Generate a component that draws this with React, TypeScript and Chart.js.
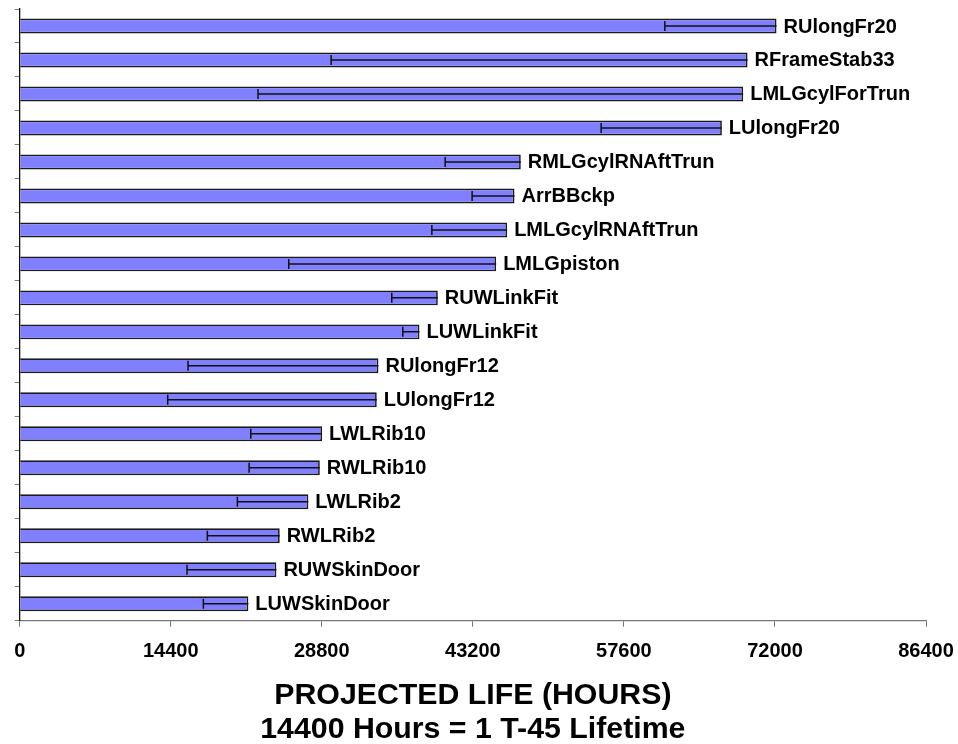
import React, { useEffect, useRef } from "react";
import { Chart, registerables } from "chart.js";

Chart.register(...registerables);

const categories = [
  "RUlongFr20",
  "RFrameStab33",
  "LMLGcylForTrun",
  "LUlongFr20",
  "RMLGcylRNAftTrun",
  "ArrBBckp",
  "LMLGcylRNAftTrun",
  "LMLGpiston",
  "RUWLinkFit",
  "LUWLinkFit",
  "RUlongFr12",
  "LUlongFr12",
  "LWLRib10",
  "RWLRib10",
  "LWLRib2",
  "RWLRib2",
  "RUWSkinDoor",
  "LUWSkinDoor",
];

const projectedLife = [
  72150, 69390, 68970, 66940, 47770, 47170, 46470, 45420, 39860, 38110,
  34200, 34040, 28830, 28610, 27520, 24790, 24470, 21800,
];

const lowerBound = [
  61500, 29690, 22720, 55430, 40560, 43130, 39290, 25650, 35470, 36520,
  16050, 14110, 22030, 21870, 20750, 17890, 15950, 17510,
];

const xTicks = [0, 14400, 28800, 43200, 57600, 72000, 86400];

const FONT = '"Liberation Sans", Arial, sans-serif';

const errorAndLabelPlugin = {
  id: "errorAndLabel",
  afterDatasetsDraw(chart: any) {
    const ctx = chart.ctx;
    const meta = chart.getDatasetMeta(0);
    const xScale = chart.scales.x;
    ctx.save();
    meta.data.forEach((bar: any, i: number) => {
      const xEnd = xScale.getPixelForValue(projectedLife[i]);
      const xLow = xScale.getPixelForValue(lowerBound[i]);
      const y = bar.y;
      ctx.strokeStyle = "#111";
      ctx.lineWidth = 1.5;
      ctx.beginPath();
      ctx.moveTo(xLow, y);
      ctx.lineTo(xEnd, y);
      ctx.moveTo(xLow, y - 5);
      ctx.lineTo(xLow, y + 5);
      ctx.stroke();
      ctx.fillStyle = "#000";
      ctx.font = `bold 20px ${FONT}`;
      ctx.textAlign = "left";
      ctx.textBaseline = "middle";
      ctx.fillText(categories[i], xEnd + 7, y + 1);
    });
    ctx.restore();
  },
};

export default function App() {
  const canvasRef = useRef<HTMLCanvasElement | null>(null);

  useEffect(() => {
    if (!canvasRef.current) return;
    const chart = new Chart(canvasRef.current, {
      type: "bar",
      data: {
        labels: categories,
        datasets: [
          {
            data: projectedLife,
            backgroundColor: "#8080FF",
            borderColor: "#1a1a1a",
            borderWidth: 1.7,
            categoryPercentage: 1,
            barPercentage: 0.44,
          },
        ],
      },
      options: {
        indexAxis: "y",
        animation: false,
        responsive: true,
        maintainAspectRatio: false,
        layout: { padding: { top: 9, left: 14.7, right: 32, bottom: 0 } },
        plugins: { legend: { display: false }, tooltip: { enabled: false } },
        scales: {
          x: {
            type: "linear",
            min: 0,
            max: 86400,
            afterBuildTicks: (scale: any) => {
              scale.ticks = xTicks.map((v) => ({ value: v }));
            },
            afterFit: (scale: any) => {
              scale.paddingRight = 0;
              scale.paddingLeft = 0;
            },
            grid: {
              drawOnChartArea: false,
              drawTicks: true,
              tickLength: 6,
              color: "#777",
            },
            border: { color: "#777", width: 1.3 },
            ticks: {
              color: "#000",
              padding: 13,
              maxRotation: 0,
              font: { family: FONT, size: 20, weight: "bold" },
              callback: (v: any) => String(v),
            },
            title: {
              display: true,
              text: ["PROJECTED LIFE (HOURS)", "14400 Hours = 1 T-45 Lifetime"],
              color: "#000",
              font: { family: FONT, size: 30.3, weight: "bold", lineHeight: 1.11 },
              padding: { top: 2, bottom: -2 },
            },
          },
          y: {
            type: "category",
            offset: true,
            grid: {
              offset: true,
              drawOnChartArea: false,
              drawTicks: true,
              tickLength: 5,
              color: "#777",
            },
            border: { color: "#111", width: 1.3 },
            ticks: { display: false },
          },
        },
      },
      plugins: [errorAndLabelPlugin],
    });
    return () => chart.destroy();
  }, []);

  return (
    <div
      style={{
        position: "fixed",
        left: 0,
        top: 0,
        width: 958,
        height: 744,
        background: "#fff",
      }}
    >
      <canvas ref={canvasRef} />
    </div>
  );
}
